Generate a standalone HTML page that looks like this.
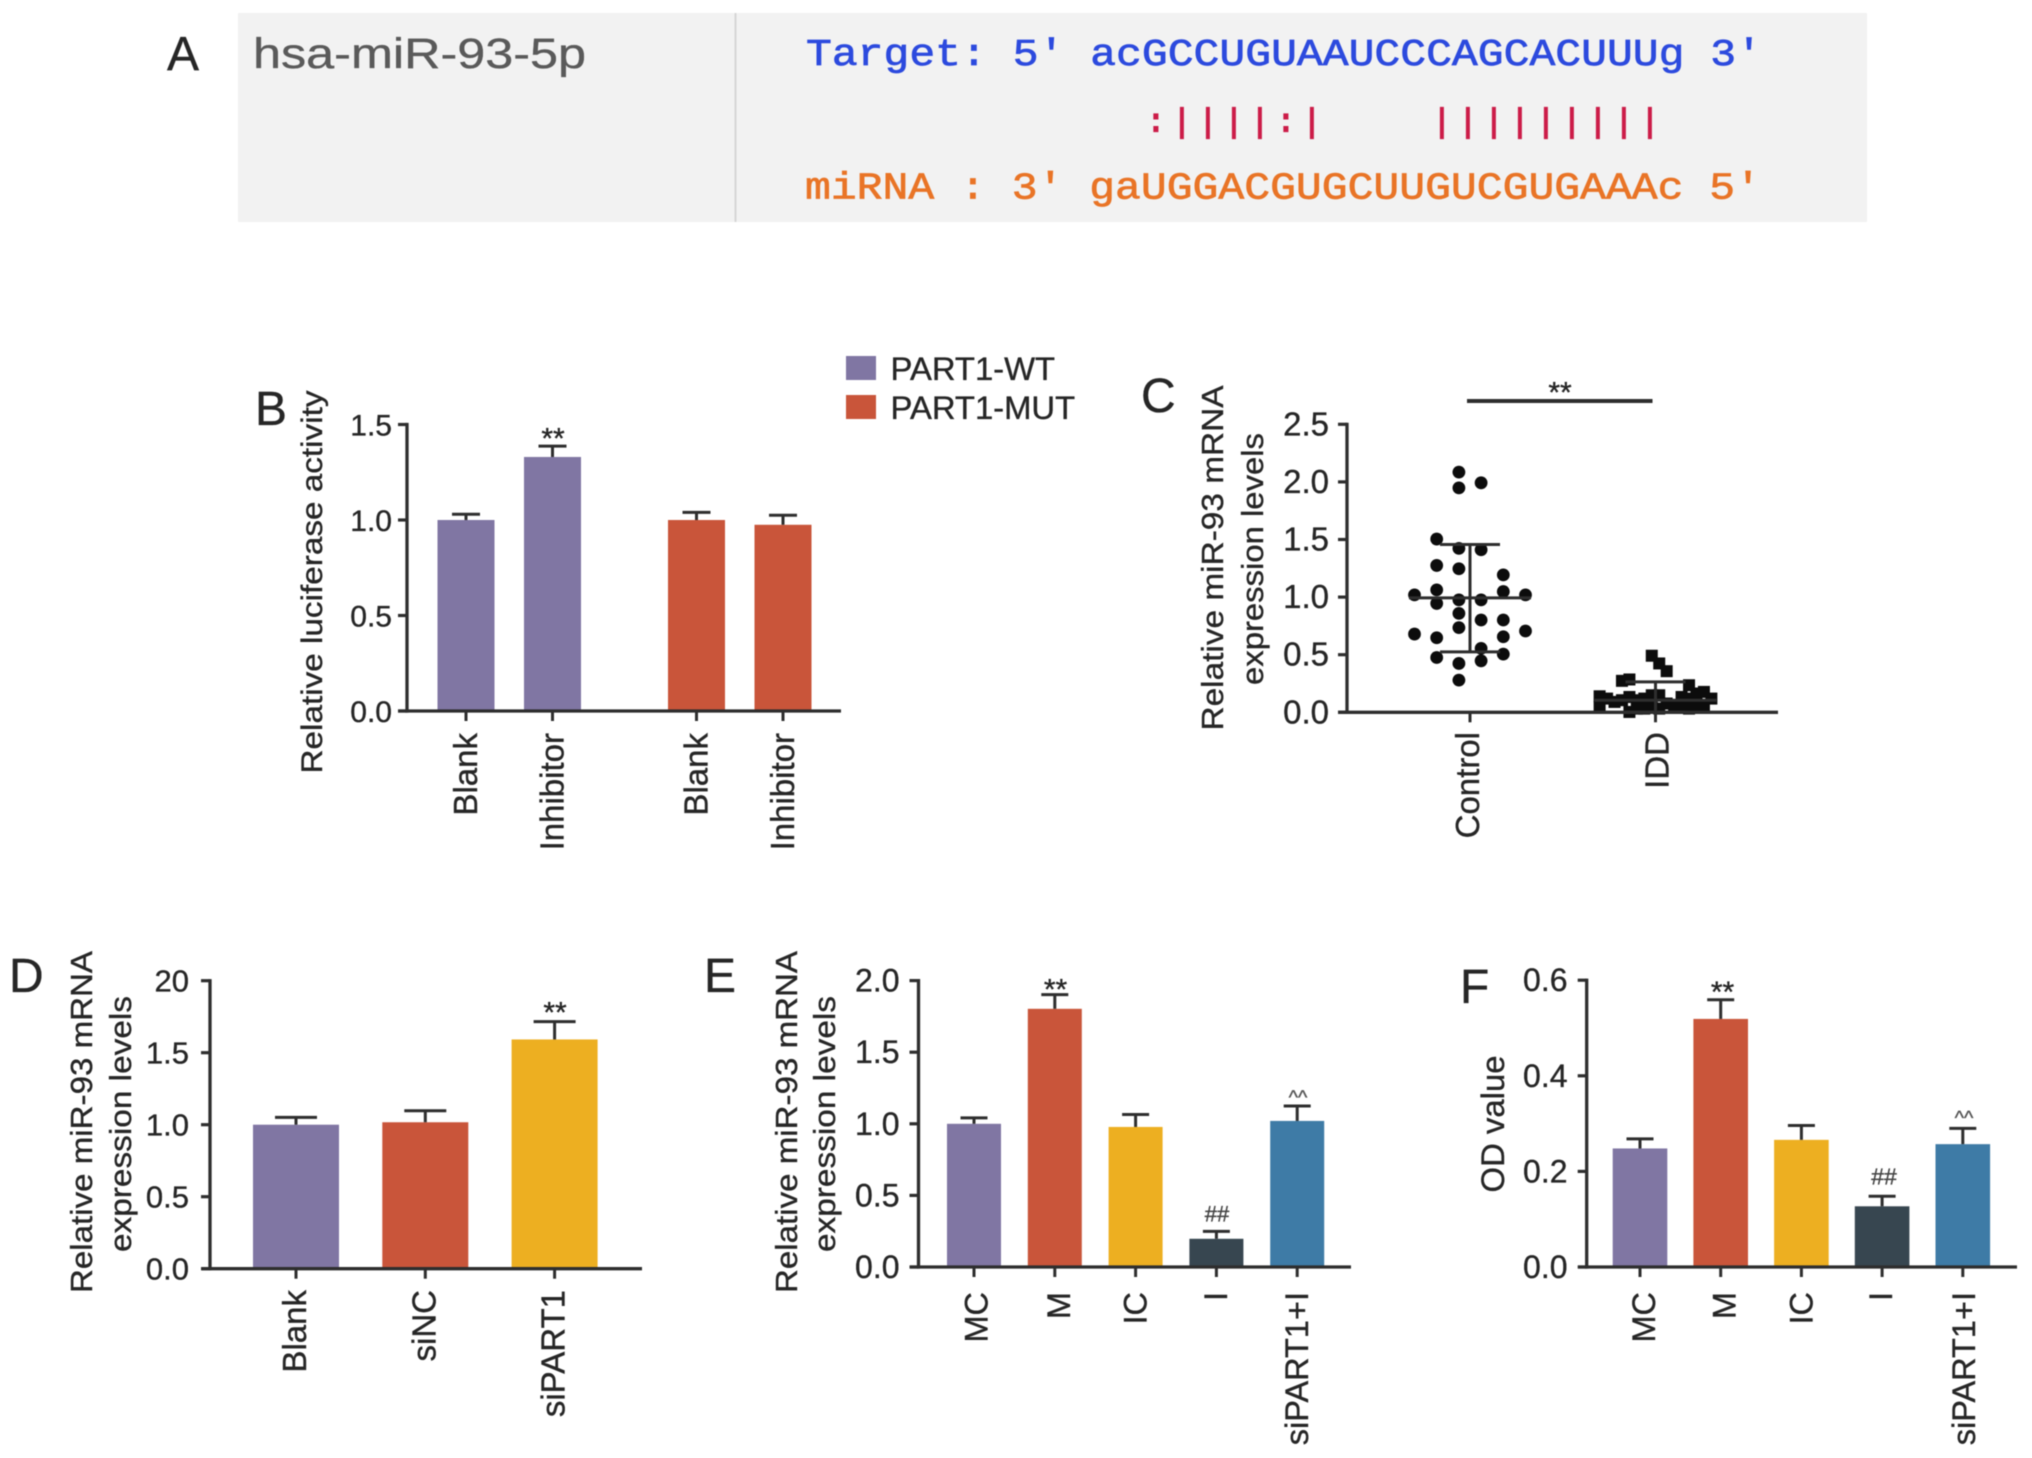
<!DOCTYPE html>
<html lang="en">
<head>
<meta charset="utf-8">
<title>PART1 and miR-93 figure</title>
<style>
  html, body { margin: 0; padding: 0; background: #fff; }
  svg { display: block; filter: blur(0.55px); }
  text { font-family: "Liberation Sans", Arial, sans-serif; fill: #262626; stroke: #262626; stroke-width: 0.35px; }
  .mono { font-family: "Liberation Mono", monospace; }
</style>
</head>
<body>
<svg id="figure" xmlns="http://www.w3.org/2000/svg" width="2032" height="1458" viewBox="0 0 2032 1458">
  <rect x="0" y="0" width="2032" height="1458" fill="#fff"/>

  <g>
    <text x="167" y="70" font-size="48" fill="#111">A</text>
    <rect x="238" y="13" width="1629" height="209" fill="#f2f2f2"/>
    <rect x="734.5" y="13" width="2" height="209" fill="#d6d6d6"/>
    <text x="253" y="68" font-size="43" textLength="333" lengthAdjust="spacingAndGlyphs" style="fill:#5a5a5a;stroke:#5a5a5a">hsa-miR-93-5p</text>
    <text class="mono" x="806" y="65" font-size="38" textLength="956" lengthAdjust="spacingAndGlyphs" xml:space="preserve" style="fill:#2c4ade;stroke:#2c4ade;stroke-width:.7px">Target: 5' acGCCUGUAAUCCCAGCACUUUg 3'</text>
    <text class="mono" x="1146" y="131.5" font-size="33" letter-spacing="6.2" xml:space="preserve" style="fill:#cc1c48;stroke:#cc1c48;stroke-width:1.3px">:||||:|    |||||||||</text>
    <text class="mono" x="805" y="198.5" font-size="38" textLength="956" lengthAdjust="spacingAndGlyphs" xml:space="preserve" style="fill:#e97426;stroke:#e97426;stroke-width:.7px">miRNA : 3' gaUGGACGUGCUUGUCGUGAAAc 5'</text>
  </g>

  <g>
    <rect x="846" y="356" width="30" height="24" fill="#8076a3"/>
    <text x="890.5" y="380" font-size="32.8">PART1-WT</text>
    <rect x="846" y="395" width="30" height="24" fill="#c9553a"/>
    <text x="890.5" y="419" font-size="32.8">PART1-MUT</text>
  </g>
</svg>

<script>
// Panel B
const bCategories = ["Blank", "Inhibitor", "Blank", "Inhibitor"];
const bValues = [1.0, 1.33, 1.0, 0.975];
const bErrorTops = [1.03, 1.387, 1.04, 1.025];
const bTicks = [0, 0.5, 1.0, 1.5];
const bTickLabels = ["0.0", "0.5", "1.0", "1.5"];

// Panel C
const cCategories = ["Control", "IDD"];
const cTicks = [0, 0.5, 1.0, 1.5, 2.0, 2.5];
const cTickLabels = ["0.0", "0.5", "1.0", "1.5", "2.0", "2.5"];
const controlColumns = [
  [1.019, 0.679],
  [1.504, 1.275, 1.063, 0.945, 0.647, 0.476],
  [2.085, 1.948, 1.423, 1.246, 0.976, 0.859, 0.735, 0.424, 0.279],
  [1.992, 1.411, 0.976, 0.801, 0.555, 0.447],
  [1.193, 1.048, 0.801, 0.656, 0.505],
  [1.019, 0.706]
];
const iddColumns = [
  [0.139, 0.046],
  [0.119],
  [0.090],
  [0.273, 0.105],
  [0.285, 0.133, 0.003],
  [0.105, 0.032],
  [0.119, 0.032],
  [0.491, 0.148, 0.046],
  [0.424, 0.148, 0.032],
  [0.357, 0.076],
  [0.061],
  [0.133, 0.046],
  [0.235, 0.119, 0.032],
  [0.163, 0.046],
  [0.177, 0.061],
  [0.119]
];
const controlMean = 0.993;
const controlSdUpper = 1.457;
const controlSdLower = 0.525;
const iddMean = 0.105;
const iddSdUpper = 0.264;
const iddSdLower = 0;

// Panel D
const dCategories = ["Blank", "siNC", "siPART1"];
const dValues = [1.0, 1.017, 1.592];
const dErrorTops = [1.051, 1.097, 1.716];
const dTicks = [0, 0.5, 1.0, 1.5, 2.0];
const dTickLabels = ["0.0", "0.5", "1.0", "1.5", "20"];

// Panel E
const eCategories = ["MC", "M", "IC", "I", "siPART1+I"];
const eValues = [1.0, 1.803, 0.978, 0.197, 1.02];
const eErrorTops = [1.041, 1.902, 1.065, 0.249, 1.124];
const eTicks = [0, 0.5, 1.0, 1.5, 2.0];
const eTickLabels = ["0.0", "0.5", "1.0", "1.5", "2.0"];

// Panel F
const fCategories = ["MC", "M", "IC", "I", "siPART1+I"];
const fValues = [0.248, 0.519, 0.266, 0.127, 0.257];
const fErrorTops = [0.268, 0.559, 0.296, 0.148, 0.29];
const fTicks = [0, 0.2, 0.4, 0.6];
const fTickLabels = ["0.0", "0.2", "0.4", "0.6"];

const INK = "#2e2e2e";
const PURPLE = "#8076a3", RED = "#c9553a", YELLOW = "#edaf21", SLATE = "#374650", BLUE = "#3e7ba6";

const SVG_NS = "http://www.w3.org/2000/svg";
const figure = document.getElementById("figure");

function make(tag, attrs, parent) {
  const node = document.createElementNS(SVG_NS, tag);
  for (const key in attrs) node.setAttribute(key, attrs[key]);
  parent.appendChild(node);
  return node;
}

function drawLine(parent, x1, y1, x2, y2, width, name) {
  const line = make("line", { x1: x1, y1: y1, x2: x2, y2: y2, stroke: INK, "stroke-width": width }, parent);
  
  
  return line;
}

function drawText(parent, str, x, y, size, name, extra) {
  const t = make("text", Object.assign({ x: x, y: y, "font-size": size }, extra || {}), parent);
  t.textContent = str;
  
  
  return t;
}

function drawVerticalText(parent, str, x, y, size, name, extra) {
  const attrs = Object.assign({ transform: "rotate(-90 " + x + " " + y + ")" }, extra || {});
  return drawText(parent, str, x, y, size, name, attrs);
}

function drawAxes(group, p, ticks, tickLabels, categories, xOf, yOf) {
  drawLine(group, p.axisX, p.zero + 1.6, p.axisX, yOf(ticks[ticks.length - 1]) - 1.6, 3.3, "y-axis-line");
  drawLine(group, p.axisLeft, p.zero, p.axisRight, p.zero, 3.3, "x-axis-line");
  ticks.forEach(function (v, i) {
    drawLine(group, p.axisX - 9, yOf(v), p.axisX, yOf(v), 3.2, "y-tick");
    drawText(group, tickLabels[i], p.tickLabelRight, yOf(v) + 11, p.tickSize, "y-tick-label", { "text-anchor": "end" });
  });
  categories.forEach(function (c, i) {
    drawLine(group, xOf(i), p.zero, xOf(i), p.zero + 10, 3, "x-tick");
    drawVerticalText(group, c, xOf(i) + p.labelOffsets[i], p.labelTop, p.labelSize, "x-tick-label", { "text-anchor": "end" });
  });
}

function drawBarChart(p, categories, values, errorTops, ticks, tickLabels) {
  const group = make("g", {}, figure);
  
  
  const yOf = function (v) { return p.zero - v * p.unit; };
  const xOf = function (i) { return p.first + i * p.step + (p.gapAfter !== undefined && i > p.gapAfter ? p.gap : 0); };
  values.forEach(function (v, i) {
    const bar = make("rect", {
      x: xOf(i) - p.barWidth / 2, y: yOf(v), width: p.barWidth, height: p.zero - yOf(v), fill: p.colors[i]
    }, group);
    
    
    drawLine(group, xOf(i), yOf(v), xOf(i), yOf(errorTops[i]), 3, "error-bar-stem");
    drawLine(group, xOf(i) - p.capWidth / 2, yOf(errorTops[i]), xOf(i) + p.capWidth / 2, yOf(errorTops[i]), 3, "error-bar-cap");
  });
  drawAxes(group, p, ticks, tickLabels, categories, xOf, yOf);
  return group;
}

function drawSwarm(group, columns, xCenter, spacing, yOf, shape, name) {
  const mid = (columns.length - 1) / 2;
  columns.forEach(function (col, c) {
    col.forEach(function (v) {
      const x = xCenter + (c - mid) * spacing;
      let mark;
      if (shape === "circle") {
        mark = make("circle", { cx: x, cy: yOf(v), r: 6.4, fill: "#0c0c0c" }, group);
      } else {
        mark = make("rect", { x: x - 6, y: yOf(v) - 6, width: 12, height: 12, fill: "#0c0c0c" }, group);
      }
      
      
    });
  });
}

function drawSpread(group, xCenter, yOf, mean, upper, lower) {
  drawLine(group, xCenter, yOf(upper), xCenter, yOf(lower), 3, "sd-stem");
  drawLine(group, xCenter - 61, yOf(mean), xCenter + 61, yOf(mean), 3, "mean-line");
  drawLine(group, xCenter - 30, yOf(upper), xCenter + 30, yOf(upper), 3, "sd-cap-upper");
  drawLine(group, xCenter - 30, yOf(lower), xCenter + 30, yOf(lower), 3, "sd-cap-lower");
}

// ---- Panel B ----
const panelB = drawBarChart({
  name: "panel-b", zero: 711, unit: 191, axisX: 407, axisLeft: 398, axisRight: 841,
  first: 466, step: 86.5, gapAfter: 1, gap: 57.5, barWidth: 57, capWidth: 28,
  colors: [PURPLE, PURPLE, RED, RED], tickLabelRight: 392, tickSize: 30,
  labelOffsets: [11, 11, 11, 11], labelTop: 733, labelSize: 33
}, bCategories, bValues, bErrorTops, bTicks, bTickLabels);
drawText(panelB, "B", 255, 425, 48, "panel-letter-b");
drawVerticalText(panelB, "Relative luciferase activity", 322, 582, 30, "y-axis-title", { "text-anchor": "middle", textLength: 383, lengthAdjust: "spacingAndGlyphs" });
drawText(panelB, "**", 553, 448.5, 30, "significance-marker", { "text-anchor": "middle" });

// ---- Panel C ----
const panelC = make("g", {}, figure);


const cLayout = {
  zero: 712.3, unit: 115.2, axisX: 1347, axisLeft: 1338, axisRight: 1778,
  tickLabelRight: 1329, tickSize: 33, labelOffsets: [9, 13], labelTop: 732, labelSize: 33
};
const cY = function (v) { return cLayout.zero - v * cLayout.unit; };
const cX = function (i) { return 1470 + i * 185.5; };
drawSwarm(panelC, controlColumns, cX(0), 22.2, cY, "circle", "control-point");
drawSwarm(panelC, iddColumns, cX(1), 7.45, cY, "square", "idd-point");
drawSpread(panelC, cX(0), cY, controlMean, controlSdUpper, controlSdLower);
drawSpread(panelC, cX(1), cY, iddMean, iddSdUpper, iddSdLower);
drawAxes(panelC, cLayout, cTicks, cTickLabels, cCategories, cX, cY);
drawText(panelC, "C", 1141, 412, 48, "panel-letter-c");
drawVerticalText(panelC, "Relative miR-93 mRNA", 1223, 558, 31, "y-axis-title-line-1", { "text-anchor": "middle", textLength: 345, lengthAdjust: "spacingAndGlyphs" });
drawVerticalText(panelC, "expression levels", 1263, 559, 31, "y-axis-title-line-2", { "text-anchor": "middle", textLength: 252, lengthAdjust: "spacingAndGlyphs" });
drawLine(panelC, 1467, 401, 1652.5, 401, 4, "significance-bar");
drawText(panelC, "**", 1560, 402.5, 30, "significance-marker", { "text-anchor": "middle" });

// ---- Panel D ----
const panelD = drawBarChart({
  name: "panel-d", zero: 1268.7, unit: 144, axisX: 210, axisLeft: 201.5, axisRight: 642,
  first: 296, step: 129.3, barWidth: 86, capWidth: 42,
  colors: [PURPLE, RED, YELLOW], tickLabelRight: 189, tickSize: 31,
  labelOffsets: [10, 10, 10], labelTop: 1290, labelSize: 33
}, dCategories, dValues, dErrorTops, dTicks, dTickLabels);
drawText(panelD, "D", 9, 992, 48, "panel-letter-d");
drawVerticalText(panelD, "Relative miR-93 mRNA", 92, 1122, 31, "y-axis-title-line-1", { "text-anchor": "middle", textLength: 342, lengthAdjust: "spacingAndGlyphs" });
drawVerticalText(panelD, "expression levels", 131, 1124, 31, "y-axis-title-line-2", { "text-anchor": "middle", textLength: 256, lengthAdjust: "spacingAndGlyphs" });
drawText(panelD, "**", 555, 1022.5, 30, "significance-marker", { "text-anchor": "middle" });

// ---- Panel E ----
const panelE = drawBarChart({
  name: "panel-e", zero: 1267, unit: 143.2, axisX: 918.5, axisLeft: 910, axisRight: 1351,
  first: 974, step: 80.8, barWidth: 54, capWidth: 27,
  colors: [PURPLE, RED, YELLOW, SLATE, BLUE], tickLabelRight: 899.5, tickSize: 32,
  labelOffsets: [13.5, 15, 11, 10.5, 11], labelTop: 1292, labelSize: 32.5
}, eCategories, eValues, eErrorTops, eTicks, eTickLabels);
drawText(panelE, "E", 704, 992, 48, "panel-letter-e");
drawVerticalText(panelE, "Relative miR-93 mRNA", 797, 1122, 31, "y-axis-title-line-1", { "text-anchor": "middle", textLength: 342, lengthAdjust: "spacingAndGlyphs" });
drawVerticalText(panelE, "expression levels", 835, 1124, 31, "y-axis-title-line-2", { "text-anchor": "middle", textLength: 256, lengthAdjust: "spacingAndGlyphs" });
drawText(panelE, "**", 1055.5, 999.5, 30, "significance-marker", { "text-anchor": "middle" });
drawText(panelE, "##", 1217, 1221.5, 22, "significance-marker", { "text-anchor": "middle", style: "fill:#444;stroke:#444" });
drawText(panelE, "^^", 1298, 1104, 20, "significance-marker", { "text-anchor": "middle", style: "fill:#555;stroke:#555" });

// ---- Panel F ----
const panelF = drawBarChart({
  name: "panel-f", zero: 1267, unit: 478, axisX: 1586.7, axisLeft: 1578, axisRight: 2017,
  first: 1640, step: 80.7, barWidth: 54.6, capWidth: 27,
  colors: [PURPLE, RED, YELLOW, SLATE, BLUE], tickLabelRight: 1567.5, tickSize: 32,
  labelOffsets: [15, 15, 11, 10, 12], labelTop: 1292, labelSize: 32.5
}, fCategories, fValues, fErrorTops, fTicks, fTickLabels);
drawText(panelF, "F", 1460, 1003, 48, "panel-letter-f");
drawVerticalText(panelF, "OD value", 1504, 1124, 32, "y-axis-title", { "text-anchor": "middle", textLength: 137, lengthAdjust: "spacingAndGlyphs" });
drawText(panelF, "**", 1722.5, 1002, 30, "significance-marker", { "text-anchor": "middle" });
drawText(panelF, "##", 1884, 1184.5, 23, "significance-marker", { "text-anchor": "middle", style: "fill:#444;stroke:#444" });
drawText(panelF, "^^", 1964, 1124.5, 20, "significance-marker", { "text-anchor": "middle", style: "fill:#555;stroke:#555" });
</script>
</body>
</html>
